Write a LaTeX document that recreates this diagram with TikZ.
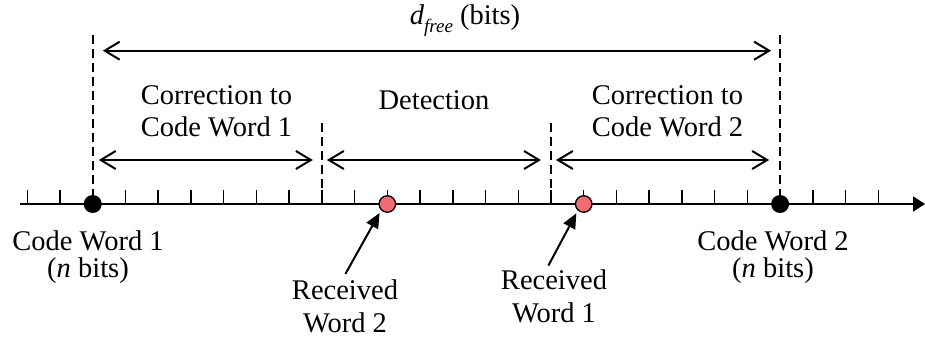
\documentclass[tikz,border=0pt]{standalone}
\usepackage{fontspec}
\setmainfont{Liberation Serif}
\usetikzlibrary{arrows.meta}
\definecolor{errfill}{RGB}{242,108,116}
\begin{document}
\begin{tikzpicture}[x=1pt,y=-1pt,
  lbl/.style={font=\fontsize{28.5}{32}\selectfont, align=center, inner sep=0pt, anchor=north},
  guide/.style={line width=1.5pt, dash pattern=on 9pt off 5pt},
  span/.style={line width=2pt, {Straight Barb[length=15pt,width=18pt]}-{Straight Barb[length=15pt,width=18pt]}},
  axisline/.style={line width=2pt, -{Triangle[length=12pt,width=15pt]}},
  tick/.style={line width=1.5pt},
  codeword/.style={circle, fill=black, minimum size=18pt, inner sep=0pt},
  received/.style={circle, draw=black, line width=1.3pt, fill=errfill, minimum size=16.5pt, inner sep=0pt},
  pointer/.style={line width=2pt, -{Triangle[length=15pt,width=13pt]}}
]
\useasboundingbox (0,0) rectangle (925,339);

% number line with one tick per bit
\coordinate (axL) at (20,204);
\coordinate (axR) at (925,204);
\draw[axisline] (axL) -- (axR);
\foreach \k in {0,...,26}
  \draw[tick] ({27.3+32.73*\k},190) -- ({27.3+32.73*\k},204);

% code words and received words on the line
\node[codeword] (cw1) at (92.76,204) {};
\node[codeword] (cw2) at (780.09,204) {};
\node[received] (rx2) at (387.33,204) {};
\node[received] (rx1) at (583.71,204) {};

% region boundaries
\coordinate (top1) at (92.76,35);
\coordinate (top2) at (780.09,35);
\coordinate (mid1) at (321.87,123);
\coordinate (mid2) at (550.98,123);
\coordinate (tk1) at (321.87,190);
\coordinate (tk2) at (550.98,190);
\draw[guide] (top1) -- (cw1);
\draw[guide] (top2) -- (cw2);
\draw[guide] (mid1) -- (tk1);
\draw[guide] (mid2) -- (tk2);

% distance arrows
\coordinate (d1) at (92.76,50.7);
\coordinate (d2) at (780.09,50.7);
\draw[span, shorten <=10pt, shorten >=9pt] (d1) -- (d2);
\coordinate (s0) at (92.76,160);
\coordinate (s1) at (321.87,160);
\coordinate (s2) at (550.98,160);
\coordinate (s3) at (780.09,160);
\draw[span, shorten <=6pt, shorten >=9pt] (s0) -- (s1);
\draw[span, shorten <=5pt, shorten >=10pt] (s1) -- (s2);
\draw[span, shorten <=5pt, shorten >=11pt] (s2) -- (s3);

% labels
\node[lbl] (dfree) at (465,5) {\textit{d}\raisebox{-0.28em}{\fontsize{19}{19}\selectfont\textit{free}} (bits)};
\node[lbl] (corr1) at (216.5,85) {Correction to\\Code Word 1};
\node[lbl] (detect) at (434,90) {Detection};
\node[lbl] (corr2) at (667.5,85) {Correction to\\Code Word 2};
\node[lbl, font=\fontsize{28.5}{26.5}\selectfont] (cw1lbl) at (88,231) {Code Word 1\\(\textit{n} bits)};
\node[lbl, font=\fontsize{28.5}{26.5}\selectfont] (cw2lbl) at (773,231) {Code Word 2\\(\textit{n} bits)};
\node[lbl, font=\fontsize{28.5}{33}\selectfont] (rw2) at (345,280) {Received\\Word 2};
\node[lbl, font=\fontsize{28.5}{33}\selectfont] (rw1) at (554,270) {Received\\Word 1};

% pointers to the received words
\draw[pointer, shorten <=7pt, shorten >=3pt] ([xshift=-3pt]rw2.north) -- (rx2.225);
\draw[pointer, shorten <=5pt, shorten >=3pt] ([xshift=-8pt]rw1.north) -- (rx1.228);
\end{tikzpicture}
\end{document}
